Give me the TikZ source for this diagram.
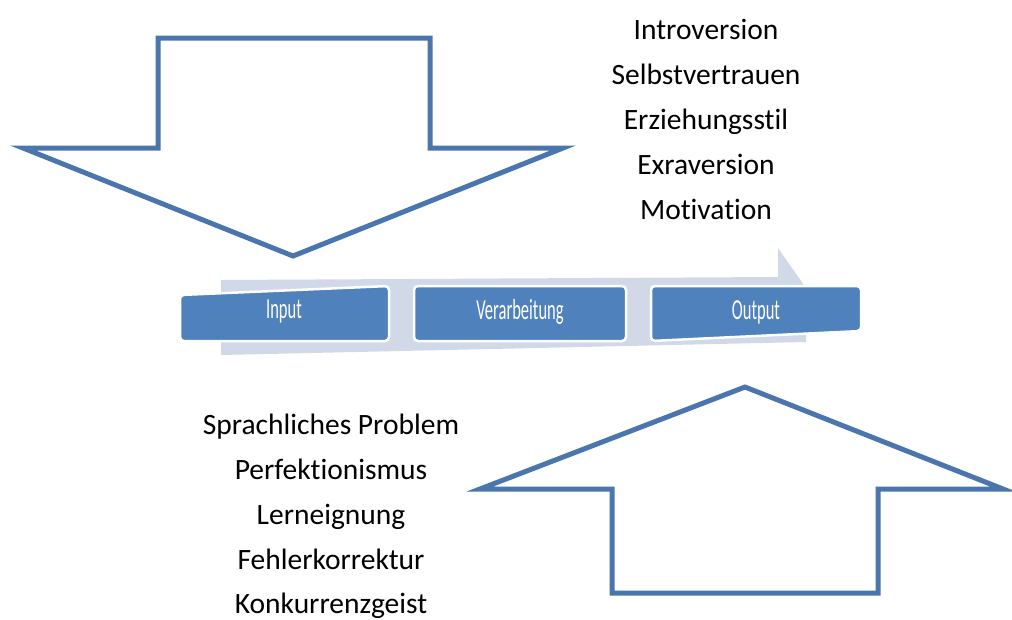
\documentclass[tikz,border=0pt]{standalone}
\usepackage{fontspec}
\setmainfont{Carlito}[Ligatures=NoCommon]
\usetikzlibrary{calc}
\definecolor{pfeil}{RGB}{74,118,173}
\definecolor{kasten}{RGB}{79,129,189}
\definecolor{band}{RGB}{209,216,232}

\begin{document}
\begin{tikzpicture}[x=1pt,y=-1pt,
    pfeilrand/.style={draw=pfeil,line width=5pt,line join=miter},
    kastenform/.style={fill=kasten,draw=white,line width=2.5pt,rounded corners=4pt},
    kastentext/.style={text=white,font=\fontsize{29}{29}\selectfont},
    liste/.style={anchor=base,font=\fontsize{29.5}{29.5}\selectfont}]
                    \useasboundingbox (0,0) rectangle (1012,619);

                    % Pfeil nach unten
                    \coordinate (A) at (158,38);
                    \coordinate (B) at (430,38);
                    \coordinate (C) at (293,256);
                    \draw[pfeilrand] (158,148) -- (A) -- (B) -- (430,148) -- (563,148) -- (C) -- (23,148) -- cycle;

                    % Pfeil nach oben
                    \coordinate (D) at (612,593);
                    \coordinate (E) at (878,593);
                    \coordinate (F) at (745,387);
                    \draw[pfeilrand] (612,489) -- (D) -- (E) -- (878,489) -- (1003,489) -- (F) -- (480,489) -- cycle;

                    % Band hinter den Kaesten
                    \fill[band] (221,355) -- (221,280) -- (778,277) -- (778,248) -- (806,288) -- (806,342) -- cycle;

                    % Kaesten
                    \draw[kastenform] (180,295) -- (389,286) -- (389,341) -- (180,341) -- cycle;
                    \draw[kastenform] (414,286) rectangle (626,341);
                    \draw[kastenform] (651,286) -- (861,286) -- (861,331) -- (651,341) -- cycle;
                    \node[kastentext] (input) at (284,312) {\scalebox{0.57}[1]{Input}};
                    \node[kastentext] (verarb) at (520,312) {\scalebox{0.57}[1]{Verarbeitung}};
                    \node[kastentext] (output) at (756,312) {\scalebox{0.57}[1]{Output}};

                    % Einflussfaktoren oben
                    \node[liste] (intro) at (706,39) {Introversion};
                    \node[liste] (selbst) at (706,84) {Selbstvertrauen};
                    \node[liste] (erz) at (706,129) {Erziehungsstil};
                    \node[liste] (extra) at (706,174) {Exraversion};
                    \node[liste] (motiv) at (706,219) {Motivation};

                    % Einflussfaktoren unten
                    \node[liste] (sprache) at (331,434) {Sprachliches Problem};
                    \node[liste] (perf) at (331,479) {Perfektionismus};
                    \node[liste] (lern) at (331,524) {Lerneignung};
                    \node[liste] (fehler) at (331,569) {Fehlerkorrektur};
                    \node[liste] (konk) at (331,613) {Konkurrenzgeist};

                \end{tikzpicture}
\end{document}
